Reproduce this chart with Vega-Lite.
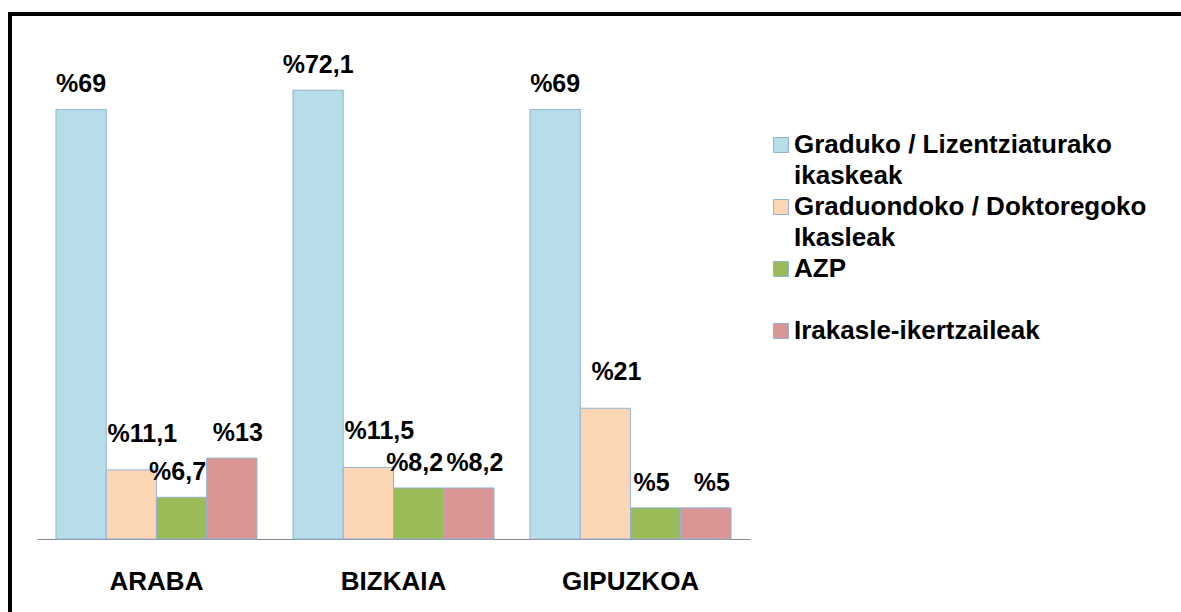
{
  "$schema": "https://vega.github.io/schema/vega-lite/v6.json",
  "autosize": {"type": "none"},
  "padding": {"left": 10, "top": 14, "right": -3, "bottom": -3},
  "width": 1174,
  "height": 601,
  "background": "white",
  "config": {"view": {"stroke": "#000", "strokeWidth": 4}, "font": "Liberation Sans"},
  "data": {
    "values": [
      {"region": "ARABA", "series": "Graduko / Lizentziaturako ikaskeak", "value": 69, "label": "%69"},
      {"region": "ARABA", "series": "Graduondoko / Doktoregoko Ikasleak", "value": 11.1, "label": "%11,1"},
      {"region": "ARABA", "series": "AZP", "value": 6.7, "label": "%6,7"},
      {"region": "ARABA", "series": "Irakasle-ikertzaileak", "value": 13, "label": "%13"},
      {"region": "BIZKAIA", "series": "Graduko / Lizentziaturako ikaskeak", "value": 72.1, "label": "%72,1"},
      {"region": "BIZKAIA", "series": "Graduondoko / Doktoregoko Ikasleak", "value": 11.5, "label": "%11,5"},
      {"region": "BIZKAIA", "series": "AZP", "value": 8.2, "label": "%8,2"},
      {"region": "BIZKAIA", "series": "Irakasle-ikertzaileak", "value": 8.2, "label": "%8,2"},
      {"region": "GIPUZKOA", "series": "Graduko / Lizentziaturako ikaskeak", "value": 69, "label": "%69"},
      {"region": "GIPUZKOA", "series": "Graduondoko / Doktoregoko Ikasleak", "value": 21, "label": "%21"},
      {"region": "GIPUZKOA", "series": "AZP", "value": 5, "label": "%5"},
      {"region": "GIPUZKOA", "series": "Irakasle-ikertzaileak", "value": 5, "label": "%5"}
    ]
  },
  "encoding": {
    "x": {
      "field": "region", "type": "nominal", "sort": ["ARABA", "BIZKAIA", "GIPUZKOA"],
      "scale": {"range": [27, 740], "paddingInner": 0.152, "paddingOuter": 0.08},
      "axis": {"title": null, "orient": "bottom", "offset": -76, "labelAngle": 0, "labelFontSize": 26, "labelFontWeight": "bold", "labelFont": "Liberation Sans", "labelColor": "#000", "labelBaseline": "alphabetic", "labelPadding": 50, "ticks": false, "tickSize": 0, "domainColor": "#888", "domainWidth": 1, "grid": false}
    },
    "xOffset": {
      "field": "series", "type": "nominal",
      "sort": ["Graduko / Lizentziaturako ikaskeak", "Graduondoko / Doktoregoko Ikasleak", "AZP", "Irakasle-ikertzaileak"],
      "scale": {"paddingInner": 0, "paddingOuter": 0}
    },
    "y": {"field": "value", "type": "quantitative", "scale": {"domain": [0, 80], "range": [525, 27]}, "axis": null}
  },
  "layer": [
    {
      "mark": {"type": "bar", "stroke": "#95b3d7", "strokeWidth": 1},
      "encoding": {
        "color": {
          "field": "series", "type": "nominal",
          "sort": ["Graduko / Lizentziaturako ikaskeak", "Graduondoko / Doktoregoko Ikasleak", "AZP", "Irakasle-ikertzaileak"],
          "scale": {
            "domain": ["Graduko / Lizentziaturako ikaskeak", "Graduondoko / Doktoregoko Ikasleak", "AZP", "Irakasle-ikertzaileak"],
            "range": ["#b7dde8", "#fcd5b5", "#9bbb59", "#d99694"]
          },
          "legend": {
            "orient": "none", "legendX": 758, "legendY": 118, "title": null,
            "symbolType": "square", "symbolSize": 225, "symbolStrokeColor": "#95b3d7", "symbolStrokeWidth": 1, "symbolOpacity": 1,
            "labelFontSize": 26, "labelFont": "Liberation Sans", "labelFontWeight": "bold", "labelColor": "#000",
            "labelLimit": 600, "labelOffset": 0, "rowPadding": 5,
            "encode": {"labels": {"update": {"lineHeight": {"value": 31}}}},
            "labelExpr": "datum.label == 'Graduko / Lizentziaturako ikaskeak' ? ['Graduko / Lizentziaturako', 'ikaskeak'] : datum.label == 'Graduondoko / Doktoregoko Ikasleak' ? ['Graduondoko / Doktoregoko', 'Ikasleak'] : [datum.label, '']"
          }
        }
      }
    },
    {
      "mark": {"type": "text", "baseline": "alphabetic", "fontSize": 25, "fontWeight": "bold", "font": "Liberation Sans", "color": "#000",
        "dx": {"expr": "datum.series == 'Graduondoko / Doktoregoko Ikasleak' ? 11 : datum.series == 'Irakasle-ikertzaileak' ? 6 : datum.series == 'AZP' ? -4 : 0"},
        "dy": {"expr": "datum.series == 'Graduondoko / Doktoregoko Ikasleak' ? -28 : -17"}},
      "encoding": {"text": {"field": "label"}}
    }
  ]
}
